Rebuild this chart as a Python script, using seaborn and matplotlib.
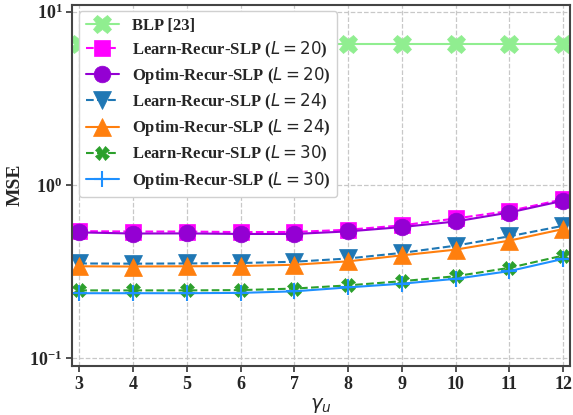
import numpy as np
import pandas as pd
import matplotlib
matplotlib.use("Agg")
import matplotlib.pyplot as plt
import seaborn as sns

# Data
gamma_u = [3, 4, 5, 6, 7, 8, 9, 10, 11, 12]
blp = [6.5] * 10
learn_l20 = [0.541, 0.538, 0.538, 0.534, 0.535, 0.551, 0.584, 0.640, 0.707, 0.826]
optim_l20 = [0.532, 0.524, 0.525, 0.521, 0.521, 0.539, 0.571, 0.615, 0.693, 0.810]
learn_l24 = [0.352, 0.351, 0.352, 0.354, 0.360, 0.376, 0.405, 0.446, 0.505, 0.581]
optim_l24 = [0.339, 0.338, 0.339, 0.340, 0.346, 0.362, 0.392, 0.423, 0.477, 0.556]
learn_l30 = [0.246, 0.246, 0.246, 0.247, 0.252, 0.263, 0.278, 0.297, 0.332, 0.391]
optim_l30 = [0.237, 0.237, 0.237, 0.238, 0.243, 0.256, 0.269, 0.287, 0.318, 0.374]

series = [
    ("BLP [23]", blp, "#90EE90", "-", "X", 13),
    (r"Learn-Recur-SLP ($L = 20$)", learn_l20, "#FF00FF", "--", "s", 12),
    (r"Optim-Recur-SLP ($L = 20$)", optim_l20, "#9400D3", "-", "o", 12),
    (r"Learn-Recur-SLP ($L = 24$)", learn_l24, "#1f77b4", "--", "v", 13),
    (r"Optim-Recur-SLP ($L = 24$)", optim_l24, "#ff7f0e", "-", "^", 13),
    (r"Learn-Recur-SLP ($L = 30$)", learn_l30, "#2ca02c", "--", "X", 10),
    (r"Optim-Recur-SLP ($L = 30$)", optim_l30, "#1E90FF", "-", "+", 12),
]

sns.set_style("ticks")
plt.rcParams["font.family"] = ["Liberation Serif", "DejaVu Sans"]
plt.rcParams["font.weight"] = "normal"
plt.rcParams["mathtext.fontset"] = "dejavusans"

fig, ax = plt.subplots(figsize=(5.73, 4.15), dpi=100)
fig.subplots_adjust(left=0.126, right=0.995, top=0.989, bottom=0.118)

for label, vals, color, ls, mk, ms in series:
    df = pd.DataFrame({"gamma": gamma_u, "mse": vals})
    sns.lineplot(data=df, x="gamma", y="mse", ax=ax, color=color, linestyle=ls,
                 marker=mk, markersize=ms, markeredgewidth=1.5 if mk == "+" else 0.5,
                 markeredgecolor=color, linewidth=1.5, label=label)

ax.set_yscale("log")
ax.set_ylim(0.09, 11)
ax.set_xlim(2.87, 12.13)
ax.set_xticks(gamma_u)
ax.minorticks_off()
ax.grid(True, linestyle="--", color="#c8c8c8", linewidth=0.9)

for sp in ax.spines.values():
    sp.set_color("#444444")
    sp.set_linewidth(1.5)
ax.tick_params(axis="both", labelsize=13, width=1.2, length=4, color="#333333", pad=3)
for t in ax.get_xticklabels() + ax.get_yticklabels():
    t.set_fontweight("bold")

ax.set_xlabel(r"$\gamma_u$", fontsize=14, labelpad=2)
ax.set_ylabel("MSE", fontsize=14, fontweight="bold")

leg = ax.legend(loc="upper left", prop={"weight": "bold", "size": 12},
                handlelength=2.0, labelspacing=0.33, borderaxespad=0.4,
                framealpha=1.0, edgecolor="#d0d0d0")

plt.savefig("out.png", dpi=100)
